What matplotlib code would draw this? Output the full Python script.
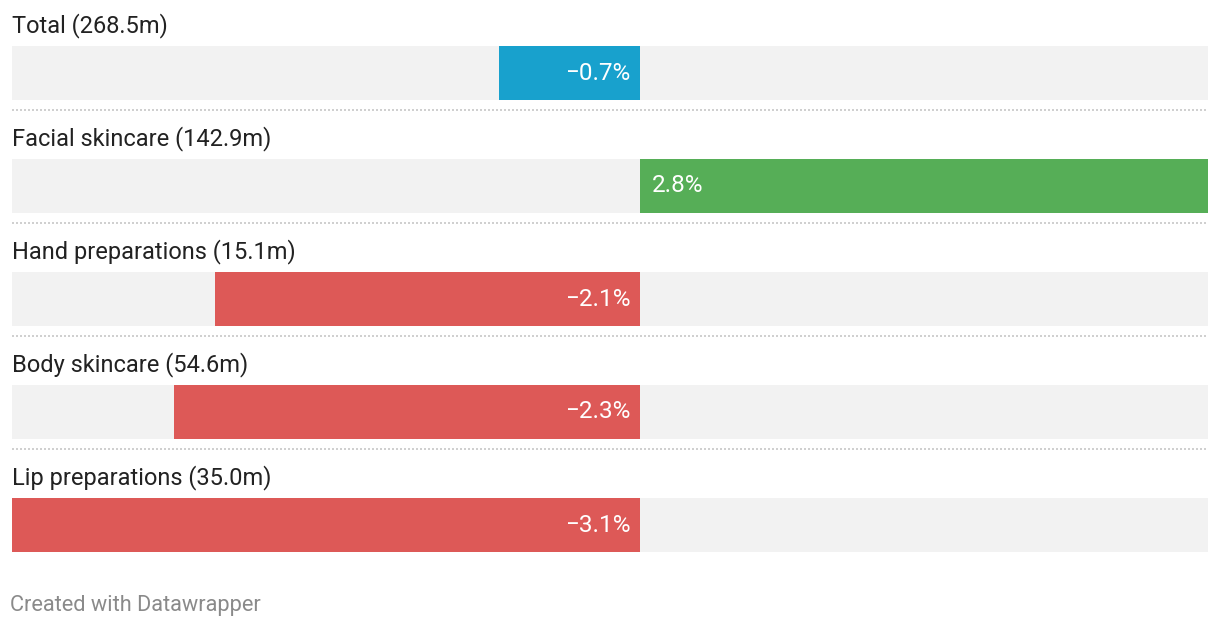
import matplotlib
matplotlib.use("Agg")
import matplotlib.pyplot as plt
import matplotlib.transforms as mtransforms

plt.rcParams['font.family'] = ['Roboto', 'DejaVu Sans']

# data
categories = ["Total (268.5m)", "Facial skincare (142.9m)", "Hand preparations (15.1m)",
              "Body skincare (54.6m)", "Lip preparations (35.0m)"]
changes = [-0.7, 2.8, -2.1, -2.3, -3.1]
bar_colors = ["#18a1cd", "#56ae57", "#dd5957", "#dd5957", "#dd5957"]
xmin, xmax = -3.1, 2.8

W, H = 1220, 628
fig = plt.figure(figsize=(W / 100, H / 100), dpi=100)
fig.patch.set_facecolor("white")

# axes spans the bar area horizontally, whole figure vertically
ax = fig.add_axes([12 / W, 0, 1196 / W, 1])
pitch = 113.0
first_center = 73.0
ax.set_xlim(xmin, xmax)
ax.set_ylim((H - first_center) / pitch, -first_center / pitch)
ax.axis("off")

bh = 54 / pitch
blend = mtransforms.blended_transform_factory(ax.transAxes, ax.transData)

for i, (cat, val, col) in enumerate(zip(categories, changes, bar_colors)):
    # background track
    ax.barh(i, xmax - xmin, left=xmin, height=bh, color="#f2f2f2", linewidth=0)
    ax.barh(i, val, left=0, height=bh, color=col, linewidth=0)
    # category label
    ax.text(0, i - (27 + 14) / pitch, cat, transform=blend, ha="left", va="baseline",
            fontsize=17, color="#222222")
    # value label inside bar
    txt = f"{val:.1f}%".replace("-", "\u2212")
    if val < 0:
        ax.annotate(txt, (0, i), xytext=(-10, 0), textcoords="offset pixels",
                    ha="right", va="center", fontsize=17.5, color="white")
    else:
        ax.annotate(txt, (0, i), xytext=(11, 0), textcoords="offset pixels",
                    ha="left", va="center", fontsize=17.5, color="white")
    # dotted separator
    if i < len(categories) - 1:
        ax.plot([0, 1], [i + (27 + 10) / pitch] * 2, transform=blend, color="#d0d0d0",
                lw=1.44, linestyle=(0, (1, 1)), solid_capstyle="butt", dash_capstyle="butt")

fig.text(10 / W, 1 - 611 / H, "Created with Datawrapper", ha="left", va="baseline",
         fontsize=15.7, color="#8a8a8a")

fig.savefig("out.png", dpi=100, facecolor="white")
